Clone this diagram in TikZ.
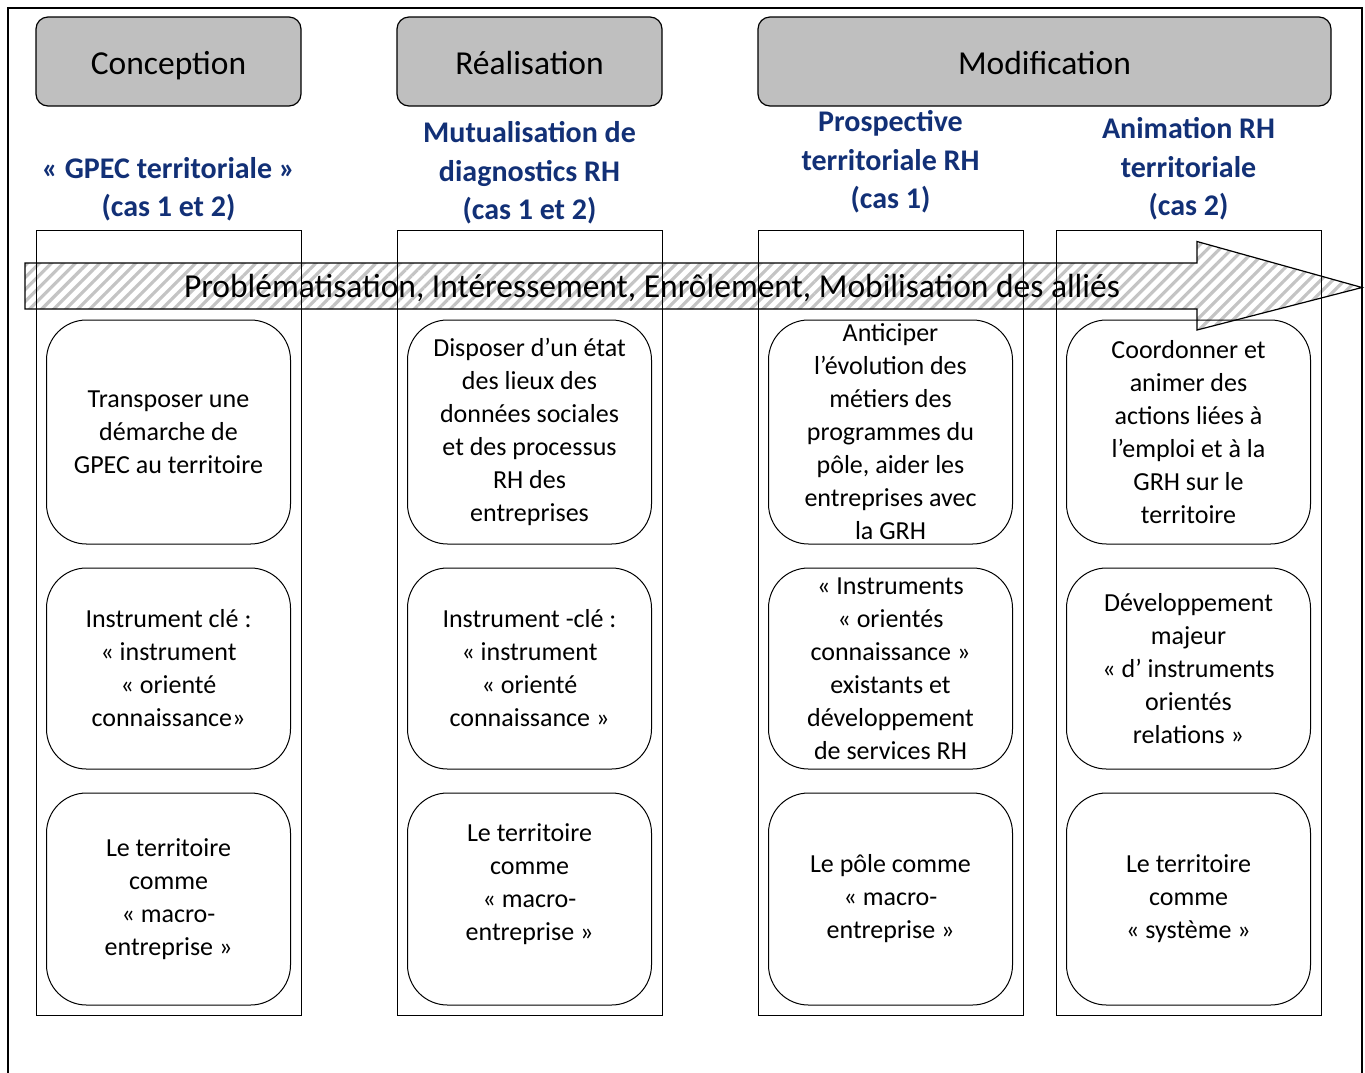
\documentclass[tikz,border=0pt]{standalone}
\usepackage{fontspec}
\setmainfont{Carlito}
\usepackage{tikz}
\usetikzlibrary{positioning,patterns.meta}
\definecolor{phasegray}{RGB}{191,191,191}
\definecolor{caseblue}{RGB}{18,48,118}
\definecolor{hatchgray}{RGB}{196,196,196}
\newcommand{\fsz}[2]{\fontsize{#1}{#2}\selectfont}
\tikzset{
  phase/.style={draw,line width=1.2pt,rounded corners=12pt,fill=phasegray,
    minimum height=89pt,text height=30pt,text depth=5pt,font=\fsz{33.5}{40}},
  casetitle/.style={align=center,text=caseblue,font=\bfseries\fsz{30}{38.5}},
  column/.style={draw,line width=1pt,minimum width=265pt,minimum height=785pt,
    inner sep=0pt},
  card/.style={draw,line width=1pt,rounded corners=40pt,minimum width=244pt,
    align=center,inner sep=0pt,font=\fsz{26}{33}},
  hatched/.style={draw,line width=1.2pt,
    pattern={Lines[angle=45,distance=8.5pt,line width=3.2pt]},pattern color=hatchgray},
}

\begin{document}
\begin{tikzpicture}[x=1pt,y=-1pt]
\useasboundingbox (0,0) rectangle (1365,1072);
% frame
\draw[line width=1.5pt] (8,1080) -- (8,8) -- (1362,8) -- (1362,1080);
% big arrow
\draw[hatched] (25,263) -- (1197,263) -- (1197,241.5) -- (1362,287.5)
  -- (1197,330) -- (1197,309) -- (25,309) -- cycle;
\node[font=\fsz{33.5}{40}] (flow) at (652,288)
  {Problématisation, Intéressement, Enrôlement, Mobilisation des alliés};
% columns
\node[column] (col1) at (168.5,622.5) {};
\node[column] (col2) at (529.5,622.5) {};
\node[column] (col3) at (890.5,622.5) {};
\node[column] (col4) at (1188.5,622.5) {};
% phases
\node[phase,minimum width=265pt] (conc) at (168.5,61.5) {Conception};
\node[phase,minimum width=265pt] (real) at (529.5,61.5) {Réalisation};
\node[phase,minimum width=573pt] (modif) at (1044.5,61.5) {Modification};
% case titles
\node[casetitle] (t1) at (168.5,189) {« GPEC territoriale »\\(cas 1 et 2)};
\node[casetitle] (t2) at (529.5,173) {Mutualisation de\\diagnostics RH\\(cas 1 et 2)};
\node[casetitle] (t3) at (890.5,162) {Prospective\\territoriale RH\\(cas 1)};
\node[casetitle] (t4) at (1188.5,169) {Animation RH\\territoriale\\(cas 2)};
% cards, col 1
\node[card,minimum height=224pt,below=90pt of col1.north] (c11)
  {Transposer une\\démarche de\\GPEC au territoire};
\node[card,minimum height=201pt,below=23pt of c11] (c12)
  {Instrument clé :\\« instrument\\« orienté\\connaissance»};
\node[card,minimum height=212pt,below=23pt of c12] (c13)
  {Le territoire\\comme\\« macro-\\entreprise »};
% cards, col 2
\node[card,minimum height=224pt,below=90pt of col2.north] (c21)
  {Disposer d’un état\\des lieux des\\données sociales\\et des processus\\RH des\\entreprises};
\node[card,minimum height=201pt,below=23pt of c21] (c22)
  {Instrument -clé :\\« instrument\\« orienté\\connaissance »};
\node[card,minimum height=212pt,below=23pt of c22] (c23)
  {Le territoire\\comme\\« macro-\\entreprise »\\\mbox{}};
% cards, col 3
\node[card,minimum height=224pt,inner ysep=-4pt,below=90pt of col3.north] (c31)
  {Anticiper\\l’évolution des\\métiers des\\programmes du\\pôle, aider les\\entreprises avec\\la GRH};
\node[card,minimum height=201pt,below=23pt of c31] (c32)
  {« Instruments\\« orientés\\connaissance »\\existants et\\développement\\de services RH};
\node[card,minimum height=212pt,below=23pt of c32] (c33)
  {Le pôle comme\\« macro-\\entreprise »};
% cards, col 4
\node[card,minimum height=224pt,below=90pt of col4.north] (c41)
  {Coordonner et\\animer des\\actions liées à\\l’emploi et à la\\GRH sur le\\territoire};
\node[card,minimum height=201pt,below=23pt of c41] (c42)
  {Développement\\majeur\\« d’ instruments\\orientés\\relations »};
\node[card,minimum height=212pt,below=23pt of c42] (c43)
  {Le territoire\\comme\\« système »};
\end{tikzpicture}
\end{document}
